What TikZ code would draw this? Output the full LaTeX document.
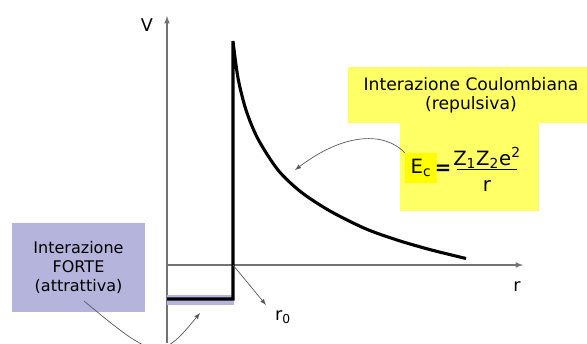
\documentclass[tikz,border=0pt]{standalone}
\usepackage{fontspec}
\setmainfont{DejaVu Sans}
\usepackage{xcolor}
\usetikzlibrary{arrows.meta,positioning}

\definecolor{coulyellow}{RGB}{255,255,102}
\definecolor{ecyellow}{RGB}{255,255,0}
\definecolor{fortelilac}{RGB}{180,180,220}

\begin{document}
\begin{tikzpicture}[>=latex,x=0.025cm,y=-0.025cm,
   axis/.style={draw=black!55,line width=0.8pt},
   pot/.style={line width=2.2pt},
   callout/.style={->,draw=black!65,line width=0.5pt},
   lbl/.style={font=\fontsize{12.5}{15}\selectfont,inner sep=0pt},
   eqtxt/.style={font=\fontsize{14}{16}\selectfont,inner sep=0pt},
   txtbox/.style={align=center,inner sep=0pt,font=\fontsize{11.4}{13.6}\selectfont}]
  \useasboundingbox (0,0) rectangle (587,343);
  \clip (0,0) rectangle (587,343);
  % axes
  \coordinate (orig) at (167,265);
  \coordinate (vfoot) at (167,343);
  \coordinate (vtop) at (167,16);
  \coordinate (rend) at (523,265);
  \draw[axis,->] (vfoot) -- (vtop);
  \draw[axis,->] (orig) -- (rend);
  \node[lbl] (vlab) at (147,25) {V};
  \node[lbl] (rlab) at (517,287) {r};
  % buca di potenziale + barriera coulombiana
  \fill[fortelilac] (167,295) rectangle (234,305);
  \draw[pot] (167,299) -- (233,299) -- plot[smooth] coordinates {(233,41) (238,78) (246,110)
      (258,139) (278,170) (301,192) (330,211) (365,228.5) (397,240) (430,249.6) (466,258.5)};
  % r_0
  \coordinate (corner) at (233,265);
  \coordinate (rtip) at (266,305);
  \node[lbl] (rzero) at (283,317) {r\textsubscript{0}};
  \draw[callout] (corner) -- (rtip);
  % riquadro coulombiano
  \node[txtbox,fill=coulyellow,minimum width=6.15cm,minimum height=1.375cm,
      font=\fontsize{12.2}{13.8}\selectfont] (coul) at (471,95)
      {Interazione Coulombiana\\(repulsiva)};
  \node[fill=coulyellow,minimum width=3.475cm,minimum height=2.225cm,inner sep=0pt] (eqbox) at (469.5,166.5) {};
  \node[eqtxt,fill=ecyellow,minimum width=0.8cm,minimum height=0.75cm] (ec) at (421,168) {E\textsubscript{c}};
  \node[eqtxt] (eqsign) at (443,170) {\textbf{=}};
  \node[eqtxt] (num) at (487,158) {Z\textsubscript{1}Z\textsubscript{2}e\textsuperscript{2}};
  \node[eqtxt] (den) at (487,186) {r};
  \draw[line width=0.6pt] (457,169) -- (517,169);
  \coordinate (coultip) at (295,170);
  \draw[callout] (ec.north west) .. controls (385,132) and (345,132) .. (coultip);
  % riquadro forte
  \node[txtbox,fill=fortelilac,minimum width=3.325cm,minimum height=2.225cm] (forte) at (78.5,267.5)
      {Interazione\\FORTE\\(attrattiva)};
  \coordinate (fortetail) at (84,301);
  \coordinate (fortetip) at (200,313);
  \draw[callout] (fortetail) .. controls (155,360) and (160,362) .. (fortetip);
\end{tikzpicture}
\end{document}
